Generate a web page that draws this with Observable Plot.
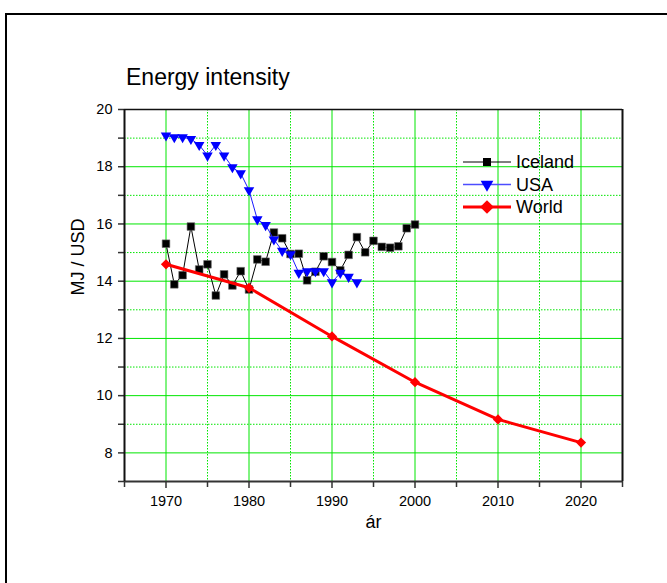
<!DOCTYPE html>
<html><head><meta charset="utf-8">
<script src="https://cdn.jsdelivr.net/npm/d3@7"></script>
<script src="https://cdn.jsdelivr.net/npm/@observablehq/plot@0.6"></script>
<style>
body{margin:0;background:#fff;overflow:hidden;font-family:"Liberation Sans",Arial,sans-serif;}
#wrap{position:relative;width:667px;height:583px;overflow:hidden;}
#frame{position:absolute;left:5px;top:13px;width:800px;height:800px;border:2px solid #000;box-sizing:border-box;}
#chart{position:absolute;left:0;top:0;}
</style></head><body>
<div id="wrap"><div id="frame"></div><div id="chart"></div></div>
<script>
const icelandYears = [1970,1971,1972,1973,1974,1975,1976,1977,1978,1979,1980,1981,1982,1983,1984,1985,1986,1987,1988,1989,1990,1991,1992,1993,1994,1995,1996,1997,1998,1999,2000];
const icelandValues = [15.31,13.89,14.21,15.91,14.41,14.59,13.5,14.24,13.85,14.35,13.71,14.76,14.68,15.7,15.5,14.95,14.96,14.03,14.33,14.87,14.67,14.38,14.92,15.54,15.01,15.41,15.2,15.17,15.22,15.85,15.98];
const usaYears = [1970,1971,1972,1973,1974,1975,1976,1977,1978,1979,1980,1981,1982,1983,1984,1985,1986,1987,1988,1989,1990,1991,1992,1993];
const usaValues = [19.09,19.03,19.03,18.97,18.76,18.39,18.76,18.39,17.98,17.77,17.18,16.16,15.96,15.46,15.06,14.94,14.29,14.35,14.35,14.35,13.96,14.29,14.15,13.96];
const worldYears = [1970,1980,1990,2000,2010,2020];
const worldValues = [14.59,13.77,12.07,10.47,9.17,8.36];
const xMajorTicks = [1970,1980,1990,2000,2010,2020];
const xMinorTicks = [1965,1975,1985,1995,2005,2015,2025];
const yMajorTicks = [8,10,12,14,16,18,20];
const yMinorTicks = [7,9,11,13,15,17,19];
const seriesNames = ["Iceland","USA","World"];
const titleText = "Energy intensity";
const xLabel = "ár";
const yLabel = "MJ / USD";

const iceland = icelandYears.map((year,i)=>({year, value: icelandValues[i]}));
const usa = usaYears.map((year,i)=>({year, value: usaValues[i]}));
const world = worldYears.map((year,i)=>({year, value: worldValues[i]}));

const green = "#00e600";
const font = '"Liberation Sans", Arial, sans-serif';

const plot = Plot.plot({
  width: 667, height: 583,
  marginLeft: 124, marginRight: 45, marginTop: 109, marginBottom: 102,
  x: {domain: [1965, 2025]},
  y: {domain: [7, 20]},
  style: {fontFamily: font, fontSize: "14px", color: "#000", background: "transparent", overflow: "visible"},
  marks: [
    Plot.gridX(xMinorTicks.slice(1, -1), {stroke: green, strokeOpacity: 1, strokeDasharray: "1.5,1.5"}),
    Plot.gridY(yMinorTicks.slice(1), {stroke: green, strokeOpacity: 1, strokeDasharray: "1.5,1.5"}),
    Plot.gridX(xMajorTicks, {stroke: green, strokeOpacity: 1}),
    Plot.gridY(yMajorTicks.slice(0, -1), {stroke: green, strokeOpacity: 1}),
    Plot.axisX(xMajorTicks, {tickSize: 7, tickPadding: 7, tickFormat: "d", label: null, stroke: "#333", strokeWidth: 1.5, fontSize: 14}),
    Plot.axisX(xMinorTicks, {tickSize: 6, tickFormat: () => "", label: null, stroke: "#333", strokeWidth: 1.5}),
    Plot.axisY(yMajorTicks, {tickSize: 6, tickPadding: 6, label: null, stroke: "#333", strokeWidth: 1.5, fontSize: 14}),
    Plot.axisY(yMinorTicks, {tickSize: 6, tickFormat: () => "", label: null, stroke: "#333", strokeWidth: 1.5}),
    Plot.ruleY([20], {stroke: "#111", strokeWidth: 1.5}),
    Plot.ruleX([2025], {stroke: "#111", strokeWidth: 2}),
    Plot.ruleY([7], {stroke: "#333", strokeWidth: 2}),
    Plot.ruleX([1965], {stroke: "#111", strokeWidth: 2}),
    Plot.line(iceland, {x: "year", y: "value", stroke: "#000", strokeWidth: 1}),
    Plot.dot(iceland, {x: "year", y: "value", symbol: "square", r: 4.3, fill: "#000", stroke: "#666", strokeWidth: 0.6}),
    Plot.line(usa, {x: "year", y: "value", stroke: "#1a1aff", strokeWidth: 1}),
    Plot.dot(usa, {x: "year", y: "value", symbol: "triangle", rotate: 180, r: 3.9, fill: "#0000ff", stroke: "none"}),
    Plot.line(world, {x: "year", y: "value", stroke: "#ff0000", strokeWidth: 3}),
    Plot.dot(world, {x: "year", y: "value", symbol: "diamond2", r: 4.6, fill: "#ff0000", stroke: "none"}),
    Plot.text([xLabel], {text: d => d, frameAnchor: "bottom", dy: 46, fontSize: 18}),
    Plot.text([yLabel], {text: d => d, frameAnchor: "left", dx: -46, rotate: -90, fontSize: 18})
  ]
});
document.getElementById("chart").appendChild(plot);

const svg = d3.select(plot);
svg.selectAll('g[aria-label$="tick label"] text')
  .attr("font-size", 14.5).style("font-size", "14.5px");

svg.append("text")
  .attr("x", 126).attr("y", 85).attr("text-anchor", "start")
  .attr("font-family", font).attr("font-size", 23).attr("fill", "#000")
  .text(titleText);

const legendStyles = [
  {stroke: "#000", sw: 1, fill: "#000", sym: d3.symbolSquare, size: 64, rot: 0},
  {stroke: "#4d4dff", sw: 1.5, fill: "#0000ff", sym: d3.symbolTriangle, size: 70, rot: 180},
  {stroke: "#ff0000", sw: 3, fill: "#ff0000", sym: d3.symbolDiamond2, size: 120, rot: 0}
];
const lg = svg.append("g");
seriesNames.forEach((name, i) => {
  const y = 162 + i * 22.5;
  const s = legendStyles[i];
  lg.append("line").attr("x1", 463).attr("x2", 511).attr("y1", y).attr("y2", y)
    .attr("stroke", s.stroke).attr("stroke-width", s.sw);
  lg.append("path").attr("d", d3.symbol(s.sym, s.size)())
    .attr("transform", `translate(487,${y}) rotate(${s.rot})`).attr("fill", s.fill);
  lg.append("text").attr("x", 516).attr("y", y).attr("dy", "0.35em").attr("text-anchor", "start")
    .attr("font-family", font).attr("font-size", 18).attr("fill", "#000").text(name);
});
</script>
</body></html>
